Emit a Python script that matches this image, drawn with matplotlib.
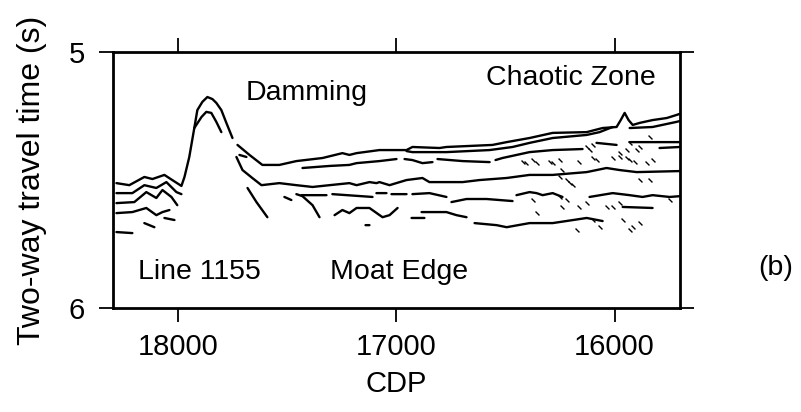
import numpy as np
import matplotlib
matplotlib.use("Agg")
import matplotlib.pyplot as plt

nan = np.nan
plt.rcParams['font.family'] = ['Liberation Sans', 'DejaVu Sans']

# ---- data (CDP, two-way travel time in s); nan breaks a traced reflector ----
h1_cdp = [18284, 18225, 18156, 18119, 18064, 18028, 17986, 17972, 17950, 17927, 17913, 17890,
          17867, 17844, 17826, 17803, 17780, 17752, nan,
          17729, 17674, 17615, 17537, 17459, 17339, 17248, 17216, 17183, 17078, 16954, 16927,
          16803, 16771, 16560, 16495, 16390, 16284, 16128, 16055, 15991, 15972, 15954, 15936,
          15917, 15885, 15826, 15761, 15716, 15702]
h1_twt = [5.512, 5.520, 5.488, 5.496, 5.480, 5.500, 5.523, 5.488, 5.410, 5.297, 5.227, 5.195,
          5.176, 5.184, 5.199, 5.227, 5.277, 5.336, nan,
          5.363, 5.402, 5.441, 5.441, 5.426, 5.414, 5.395, 5.402, 5.395, 5.383, 5.383, 5.371,
          5.375, 5.371, 5.363, 5.352, 5.336, 5.316, 5.313, 5.297, 5.293, 5.266, 5.238, 5.266,
          5.285, 5.277, 5.266, 5.258, 5.246, 5.242]

peak2_cdp = [17927, 17894, 17872, 17849, 17826, 17803]
peak2_twt = [5.297, 5.254, 5.234, 5.238, 5.273, 5.313]

h1b_cdp = [16954, 16927, 16771, 16573, 16468, 16390, 16284, 16128, 16069, 16009, nan,
           15931, 15826, 15716, 15702]
h1b_twt = [5.387, 5.391, 5.391, 5.383, 5.371, 5.355, 5.336, 5.324, 5.313, 5.293, nan,
           5.297, 5.293, 5.273, 5.270]

h2_cdp = [17431, 17307, 17216, 17183, 17078, 17000, nan, 16963, 16927, 16881, 16835, nan,
          16812, 16697, 16573, nan, 16546, 16514, 16390, 16284, 16147, nan, 16083, 15991, nan,
          15931, 15716, 15702, nan, 15794, 15702]
h2_twt = [5.453, 5.445, 5.441, 5.434, 5.426, 5.418, nan, 5.418, 5.422, 5.434, 5.430, nan,
          5.418, 5.426, 5.430, nan, 5.422, 5.414, 5.391, 5.383, 5.379, nan, 5.355, 5.363, nan,
          5.352, 5.352, 5.352, nan, 5.375, 5.371]

h3_cdp = [17734, 17706, 17661, 17619, 17537, 17459, 17385, 17307, 17216, 17183, 17124, 17092,
          17078, 17032, 16954, 16881, 16849, 16697, 16619, 16495, 16390, 16284, 16128, 16037,
          15977, 15899, 15702]
h3_twt = [5.410, 5.461, 5.492, 5.520, 5.512, 5.520, 5.527, 5.520, 5.512, 5.520, 5.508, 5.512,
          5.508, 5.520, 5.500, 5.492, 5.508, 5.508, 5.500, 5.492, 5.480, 5.480, 5.469, 5.453,
          5.461, 5.469, 5.465]

h4_cdp = [17514, 17482, nan, 17436, 17321, nan, 17294, 17110, nan, 17092, 17046, nan,
          17023, 16954, nan, 16927, 16849, 16771, nan, 16748, 16679, 16587, 16468, nan,
          16450, 16390, 16358, 16330, 16284, 16239, nan,
          16115, 16009, 15931, 15872, 15826, 15748, 15702]
h4_twt = [5.566, 5.578, nan, 5.559, 5.559, nan, 5.555, 5.566, nan, 5.551, 5.551, nan,
          5.555, 5.555, nan, 5.555, 5.551, 5.566, nan, 5.586, 5.574, 5.574, 5.582, nan,
          5.559, 5.547, 5.551, 5.559, 5.551, 5.566, nan,
          5.566, 5.551, 5.559, 5.566, 5.559, 5.566, 5.563]

steep_cdp = [17683, 17642, 17592, nan, 17459, 17431, 17385, 17353, nan, 17720, 17688]
steep_twt = [5.531, 5.586, 5.645, nan, 5.555, 5.563, 5.598, 5.645, nan, 5.402, 5.410]

h6_cdp = [17284, 17248, 17216, 17183, 17124, 17064, 17032, 16995, nan, 17142, 17124]
h6_twt = [5.637, 5.617, 5.629, 5.609, 5.609, 5.645, 5.637, 5.609, nan, 5.676, 5.676]

h7_cdp = [16931, 16872, nan, 16885, 16771, 16725, 16679, nan, 15963, 15826]
h7_twt = [5.648, 5.648, nan, 5.625, 5.625, 5.637, 5.645, nan, 5.605, 5.609]

h8_cdp = [16642, 16541, 16495, 16390, 16284, 16128, 16055]
h8_twt = [5.668, 5.676, 5.684, 5.668, 5.668, 5.648, 5.660]

left_cdp = [18284, 18211, 18156, 18101, 18055, 18009, 17986, nan,
            18284, 18202, 18147, 18101, 18073, 18032, 18005, nan,
            18284, 18211, 18147, 18101, 18073, 18041, nan,
            18064, 18018, nan, 18156, 18110, nan, 18284, 18211]
left_twt = [5.551, 5.551, 5.520, 5.531, 5.508, 5.547, 5.555, nan,
            5.590, 5.586, 5.547, 5.570, 5.539, 5.566, 5.598, nan,
            5.629, 5.625, 5.609, 5.637, 5.625, 5.617, nan,
            5.648, 5.656, nan, 5.668, 5.684, nan, 5.703, 5.707]

chaos_cdp = [16422, 16376, 16358, 16298, 16284, 16252, 16161, 16101, 16083, 16009, 15977, 15945,
             15931, 15908, 15853, 15826, 16128, 16115, 16101, 15977, 15945, 15931, 15899, 15885,
             15839, 16252, 16220, 16206, 15885, 15839, 16239, 16376, 16252, 16220, 16239, 16161,
             16128, 16037, 16009, 15977, 15748, 16358, 16174, 16069, 15963, 15917, 15885, 15931,
             16101, 16193, 16404]
chaos_twt = [5.430, 5.422, 5.434, 5.430, 5.434, 5.422, 5.430, 5.414, 5.422, 5.414, 5.410, 5.414,
             5.422, 5.430, 5.434, 5.422, 5.371, 5.383, 5.363, 5.395, 5.383, 5.355, 5.383, 5.371,
             5.332, 5.488, 5.500, 5.512, 5.500, 5.500, 5.461, 5.578, 5.566, 5.578, 5.605, 5.605,
             5.590, 5.605, 5.605, 5.590, 5.578, 5.629, 5.695, 5.684, 5.656, 5.684, 5.668, 5.695,
             5.656, 5.520, 5.434]

x_ticks = [18000, 17000, 16000]
y_ticks = [5, 6]
annotations = [("Damming", 17410, 5.16), ("Chaotic Zone", 16200, 5.10),
               ("Line 1155", 17905, 5.858), ("Moat Edge", 16990, 5.858)]

# ---- figure ----
fig = plt.figure(figsize=(8.01, 4.12), dpi=100)
ax = fig.add_axes([0.141, 0.252, 0.708, 0.622])

lw = 1.7
for cx, ty in [(h1_cdp, h1_twt), (peak2_cdp, peak2_twt), (h1b_cdp, h1b_twt),
               (h2_cdp, h2_twt), (h3_cdp, h3_twt), (h4_cdp, h4_twt),
               (steep_cdp, steep_twt), (h6_cdp, h6_twt), (h7_cdp, h7_twt),
               (h8_cdp, h8_twt), (left_cdp, left_twt)]:
    ax.plot(cx, ty, color='black', lw=lw, solid_capstyle='round', solid_joinstyle='round')

ax.plot(chaos_cdp, chaos_twt, linestyle='none', marker=(2, 0, 45), markersize=4,
        markeredgewidth=1.0, color='black')

ax.set_xlim(18300, 15700)
ax.set_ylim(6, 5)
ax.set_xticks(x_ticks)
ax.set_yticks(y_ticks)
ax.tick_params(direction='out', length=10, width=1.3, top=True, right=True,
               labelsize=21, colors='black')
ax.tick_params(axis='x', pad=8)
ax.tick_params(axis='y', pad=10)
for s in ax.spines.values():
    s.set_linewidth(2.0)

ax.set_xlabel("CDP", fontsize=21, labelpad=6)
ax.set_ylabel("Two-way travel time (s)", fontsize=23, labelpad=16)

for txt, cx, ty in annotations:
    ax.text(cx, ty, txt, fontsize=20.5, ha='center', va='center')

fig.text(0.969, 0.35, "(b)", fontsize=20.5, ha='center', va='center')

fig.savefig("out.png", dpi=100)
